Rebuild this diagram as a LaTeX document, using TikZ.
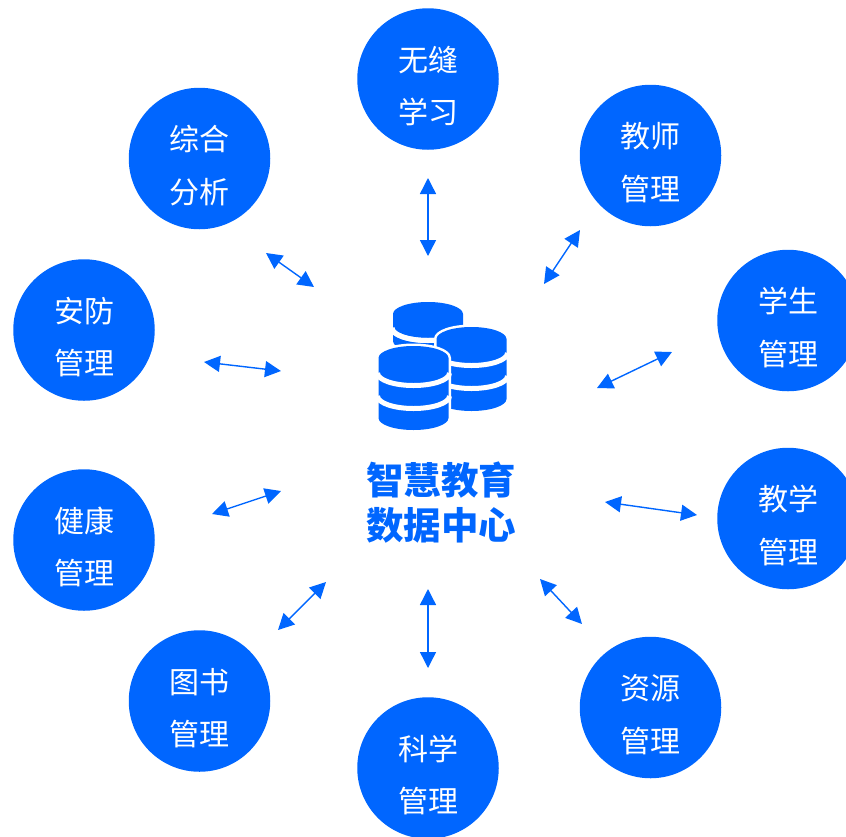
\documentclass[tikz,border=0pt]{standalone}
\usepackage{fontspec}
\setmainfont{Noto Sans CJK SC}
\usetikzlibrary{arrows.meta}
\definecolor{brandblue}{HTML}{0066FF}
\tikzset{
  hub/.style={circle,fill=brandblue,draw=none,minimum size=141.5pt,inner sep=0pt},
  hublabel/.style={text=white,align=center,font=\fontsize{30pt}{52.5pt}\selectfont,inner sep=0pt},
  title/.style={text=brandblue,align=center,font=\fontsize{37.5pt}{45pt}\selectfont\bfseries,inner sep=0pt},
  link/.style={draw=brandblue,line width=1.4pt,{Triangle[width=16pt,length=16pt]}-{Triangle[width=16pt,length=16pt]},shorten >=0pt,shorten <=0pt}
}
\newcommand{\cyl}[7]{% cx, top centre y, bottom centre y, gap1 y, gap2 y, rx, ry
  \fill[brandblue,draw=white,line width=5pt]
    (#1-#6,#2) arc[start angle=180,end angle=0,x radius=#6,y radius=-#7]
    -- (#1+#6,#3) arc[start angle=0,end angle=180,x radius=#6,y radius=#7] -- cycle;
  \fill[brandblue]
    (#1-#6,#2) arc[start angle=180,end angle=0,x radius=#6,y radius=-#7]
    -- (#1+#6,#3) arc[start angle=0,end angle=180,x radius=#6,y radius=#7] -- cycle;
  \draw[white,line width=5pt] (#1-#6-1,#4) arc[start angle=180,end angle=0,x radius=#6+1,y radius=#7+.5];
  \draw[white,line width=5pt] (#1-#6-1,#5) arc[start angle=180,end angle=0,x radius=#6+1,y radius=#7+.5];
}
\begin{document}
\begin{tikzpicture}[x=1pt,y=-1pt]
\useasboundingbox (0,0) rectangle (846,836);
\clip (0,0) rectangle (846,836);
% hubs
\node[hub] (n1) at (428,79) {};
\node[hub] (n2) at (650.5,155.5) {};
\node[hub] (n3) at (788,320.5) {};
\node[hub] (n4) at (788,518.5) {};
\node[hub] (n5) at (650.5,707.5) {};
\node[hub] (n6) at (428,768) {};
\node[hub] (n7) at (199.5,701) {};
\node[hub] (n8) at (84,540) {};
\node[hub] (n9) at (84,330) {};
\node[hub] (n10) at (199.5,158.5) {};
\node[hublabel] at ([yshift=-7pt]n1.center) {无缝\\学习};
\node[hublabel] at ([yshift=-7pt]n2.center) {教师\\管理};
\node[hublabel] at ([yshift=-7pt]n3.center) {学生\\管理};
\node[hublabel] at ([yshift=-7pt]n4.center) {教学\\管理};
\node[hublabel] at ([yshift=-7pt]n5.center) {资源\\管理};
\node[hublabel] at ([yshift=-7pt]n6.center) {科学\\管理};
\node[hublabel] at ([yshift=-7pt]n7.center) {图书\\管理};
\node[hublabel] at ([yshift=-7pt]n8.center) {健康\\管理};
\node[hublabel] at ([yshift=-7pt]n9.center) {安防\\管理};
\node[hublabel] at ([yshift=-7pt]n10.center) {综合\\分析};
% database icon
\cyl{428}{314}{341}{328}{328}{35}{12}
\cyl{471.5}{339}{399}{353}{376}{35}{12}
\cyl{413.5}{358}{418}{373}{396}{35}{12}
% title
\node[title] (centre) at (441,503) {智慧教育\\数据中心};
% connectors
\coordinate (a1s) at (428,178); \coordinate (a1e) at (428,256);
\coordinate (a2s) at (580,230); \coordinate (a2e) at (544,284);
\coordinate (a3s) at (672,352); \coordinate (a3e) at (597,388);
\coordinate (a4s) at (697,515); \coordinate (a4e) at (605,502);
\coordinate (a5s) at (582,624); \coordinate (a5e) at (540,579);
\coordinate (a6s) at (428,668); \coordinate (a6e) at (428,589);
\coordinate (a7s) at (278,630); \coordinate (a7e) at (326,582);
\coordinate (a8s) at (212,514); \coordinate (a8e) at (281,491);
\coordinate (a9s) at (204,362); \coordinate (a9e) at (281,371);
\coordinate (a10s) at (266,253); \coordinate (a10e) at (314,287);
\foreach \i in {1,...,10} \draw[link] (a\i s) -- (a\i e);
\end{tikzpicture}
\end{document}
